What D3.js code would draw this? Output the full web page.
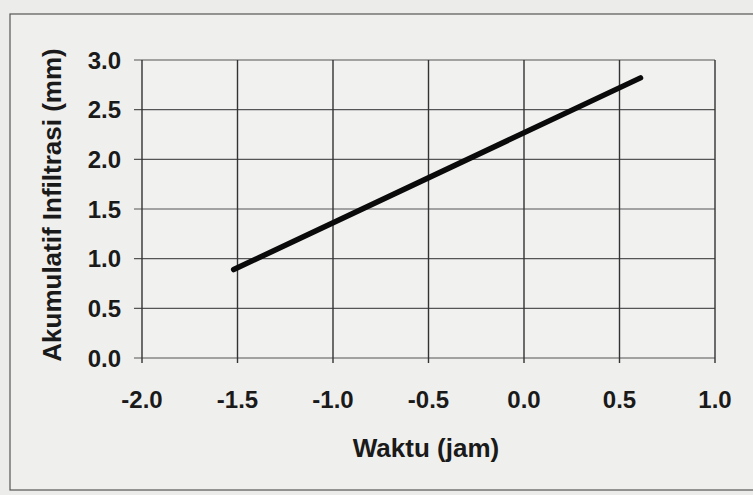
<!DOCTYPE html>
<html><head><meta charset="utf-8">
<script src="https://cdn.jsdelivr.net/npm/d3@7"></script>
<style>body{margin:0;background:#ececea;}svg{display:block;font-family:Arial,"Liberation Sans",sans-serif;}</style>
</head><body>
<script>
const xTicks = [-2.0, -1.5, -1.0, -0.5, 0.0, 0.5, 1.0];
const yTicks = [0.0, 0.5, 1.0, 1.5, 2.0, 2.5, 3.0];
const waktu = [-1.52, 0.61];
const akumulatif = [0.89, 2.82];
const xTitle = "Waktu (jam)";
const yTitle = "Akumulatif Infiltrasi (mm)";

const W = 753, H = 495;
const m = {left: 142, right: 38, top: 60, bottom: 137};
const svg = d3.select("body").append("svg").attr("width", W).attr("height", H);
svg.append("rect").attr("width", W).attr("height", H).attr("fill", "#ececea");
svg.append("rect").attr("x", 10).attr("y", 14).attr("width", W + 10).attr("height", 476)
  .attr("fill", "#efefed").attr("stroke", "#555").attr("stroke-width", 1.2);

const x = d3.scaleLinear().domain([-2, 1]).range([m.left, W - m.right]);
const y = d3.scaleLinear().domain([0, 3]).range([H - m.bottom, m.top]);
const fmt = d => d3.format(".1f")(d).replace("\u2212", "-");

svg.append("rect").attr("x", x(-2)).attr("y", y(3)).attr("width", x(1) - x(-2)).attr("height", y(0) - y(3))
  .attr("fill", "#f1f1f0");

// horizontal grid
svg.append("g").selectAll("line").data(yTicks).join("line")
  .attr("x1", x(-2) - 8).attr("x2", x(1)).attr("y1", d => y(d)).attr("y2", d => y(d))
  .attr("stroke", "#555").attr("stroke-width", 1.2);
// vertical grid
svg.append("g").selectAll("line").data(xTicks).join("line")
  .attr("x1", d => x(d)).attr("x2", d => x(d)).attr("y1", y(3)).attr("y2", y(0) + 5)
  .attr("stroke", "#333").attr("stroke-width", 1.4);

svg.append("g").selectAll("text").data(yTicks).join("text")
  .attr("x", 121).attr("y", d => y(d)).attr("dy", "0.36em")
  .attr("text-anchor", "end").attr("font-size", 24).attr("font-weight", "bold").attr("fill", "#1a1a1a")
  .text(fmt);
svg.append("g").selectAll("text").data(xTicks).join("text")
  .attr("x", d => x(d)).attr("y", 408)
  .attr("text-anchor", "middle").attr("font-size", 24).attr("font-weight", "bold").attr("fill", "#1a1a1a")
  .text(fmt);

svg.append("text").attr("x", 426).attr("y", 457).attr("text-anchor", "middle")
  .attr("font-size", 26).attr("font-weight", "bold").attr("fill", "#1a1a1a").text(xTitle);
svg.append("text").attr("transform", `translate(61,205) rotate(-90)`)
  .attr("text-anchor", "middle").attr("font-size", 26).attr("font-weight", "bold").attr("fill", "#1a1a1a").text(yTitle);

const line = d3.line().x(d => x(d[0])).y(d => y(d[1]));
svg.append("path").datum(waktu.map((w, i) => [w, akumulatif[i]]))
  .attr("d", line).attr("fill", "none").attr("stroke", "#0a0a0a").attr("stroke-width", 5.5).attr("stroke-linecap", "round");
</script>
</body></html>
